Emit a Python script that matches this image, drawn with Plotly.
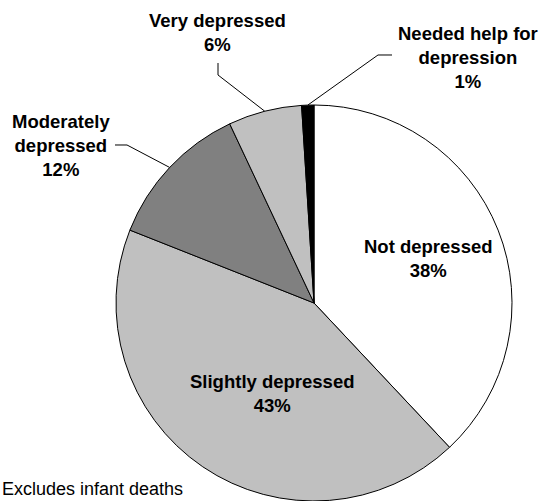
import numpy as np
import plotly.graph_objects as go

# ---- data ----
labels = ["Not depressed", "Slightly depressed", "Moderately depressed",
          "Very depressed", "Needed help for depression"]
values = [38, 43, 12, 6, 1]
label_lines = ["Not depressed", "Slightly depressed", "Moderately<br>depressed",
               "Very depressed", "Needed help for<br>depression"]
colors = ["#FFFFFF", "#C0C0C0", "#808080", "#C0C0C0", "#000000"]
footnote = "Excludes infant deaths"

# ---- geometry (pixels) ----
W, H = 545, 501
R = 198
CX = 314
CY = H - R

def px(x, y):
    return x / W, 1 - y / H

fig = go.Figure()
fig.add_trace(go.Pie(
    labels=labels, values=values, sort=False, direction="clockwise", rotation=0,
    marker=dict(colors=colors, line=dict(color="black", width=1)),
    textinfo="none", hoverinfo="label+percent", showlegend=False,
    domain=dict(x=[(CX - R) / W, (CX + R) / W], y=[0, 2 * R / H]),
))

font = dict(family="Liberation Sans, Arial", size=18.5, color="black", weight="bold")

# label block centres (pixels)
text_pos = {0: (428, 258), 1: (272, 393), 2: (61, 145), 3: (217, 32), 4: (468, 57)}
# leader line start and elbow (pixels)
leaders = {2: [(115, 145), (127, 145)],
           3: [(218, 63), (218, 75)],
           4: [(392, 55), (378, 55)]}

total = sum(values)
cum = np.cumsum([0] + values)
annotations = []
shapes = []
for i, (lt, v) in enumerate(zip(label_lines, values)):
    tx, ty = px(*text_pos[i])
    annotations.append(dict(x=tx, y=ty, xref="paper", yref="paper",
                            text=f"{lt}<br>{v}%", showarrow=False,
                            xanchor="center", yanchor="middle", font=font,
                            align="center"))
    if i in leaders:
        mid = (cum[i] + cum[i + 1]) / 2 / total * 2 * np.pi
        ex = CX + R * np.sin(mid)
        ey = CY - R * np.cos(mid)
        pts = leaders[i] + [(ex, ey)]
        pp = [px(a, b) for a, b in pts]
        path = "M " + " L ".join(f"{a:.5f},{b:.5f}" for a, b in pp)
        shapes.append(dict(type="path", path=path, xref="paper", yref="paper",
                           line=dict(color="black", width=1)))

fx, fy = px(0, 501)
annotations.append(dict(x=fx, y=fy, xref="paper", yref="paper", text=footnote,
                        showarrow=False, xanchor="left", yanchor="bottom",
                        font=dict(family="Liberation Sans, Arial", size=18, color="black")))

fig.update_layout(width=W, height=H, margin=dict(l=0, r=0, t=0, b=0),
                  paper_bgcolor="white", plot_bgcolor="white",
                  annotations=annotations, shapes=shapes)
fig.write_html("out.html")
